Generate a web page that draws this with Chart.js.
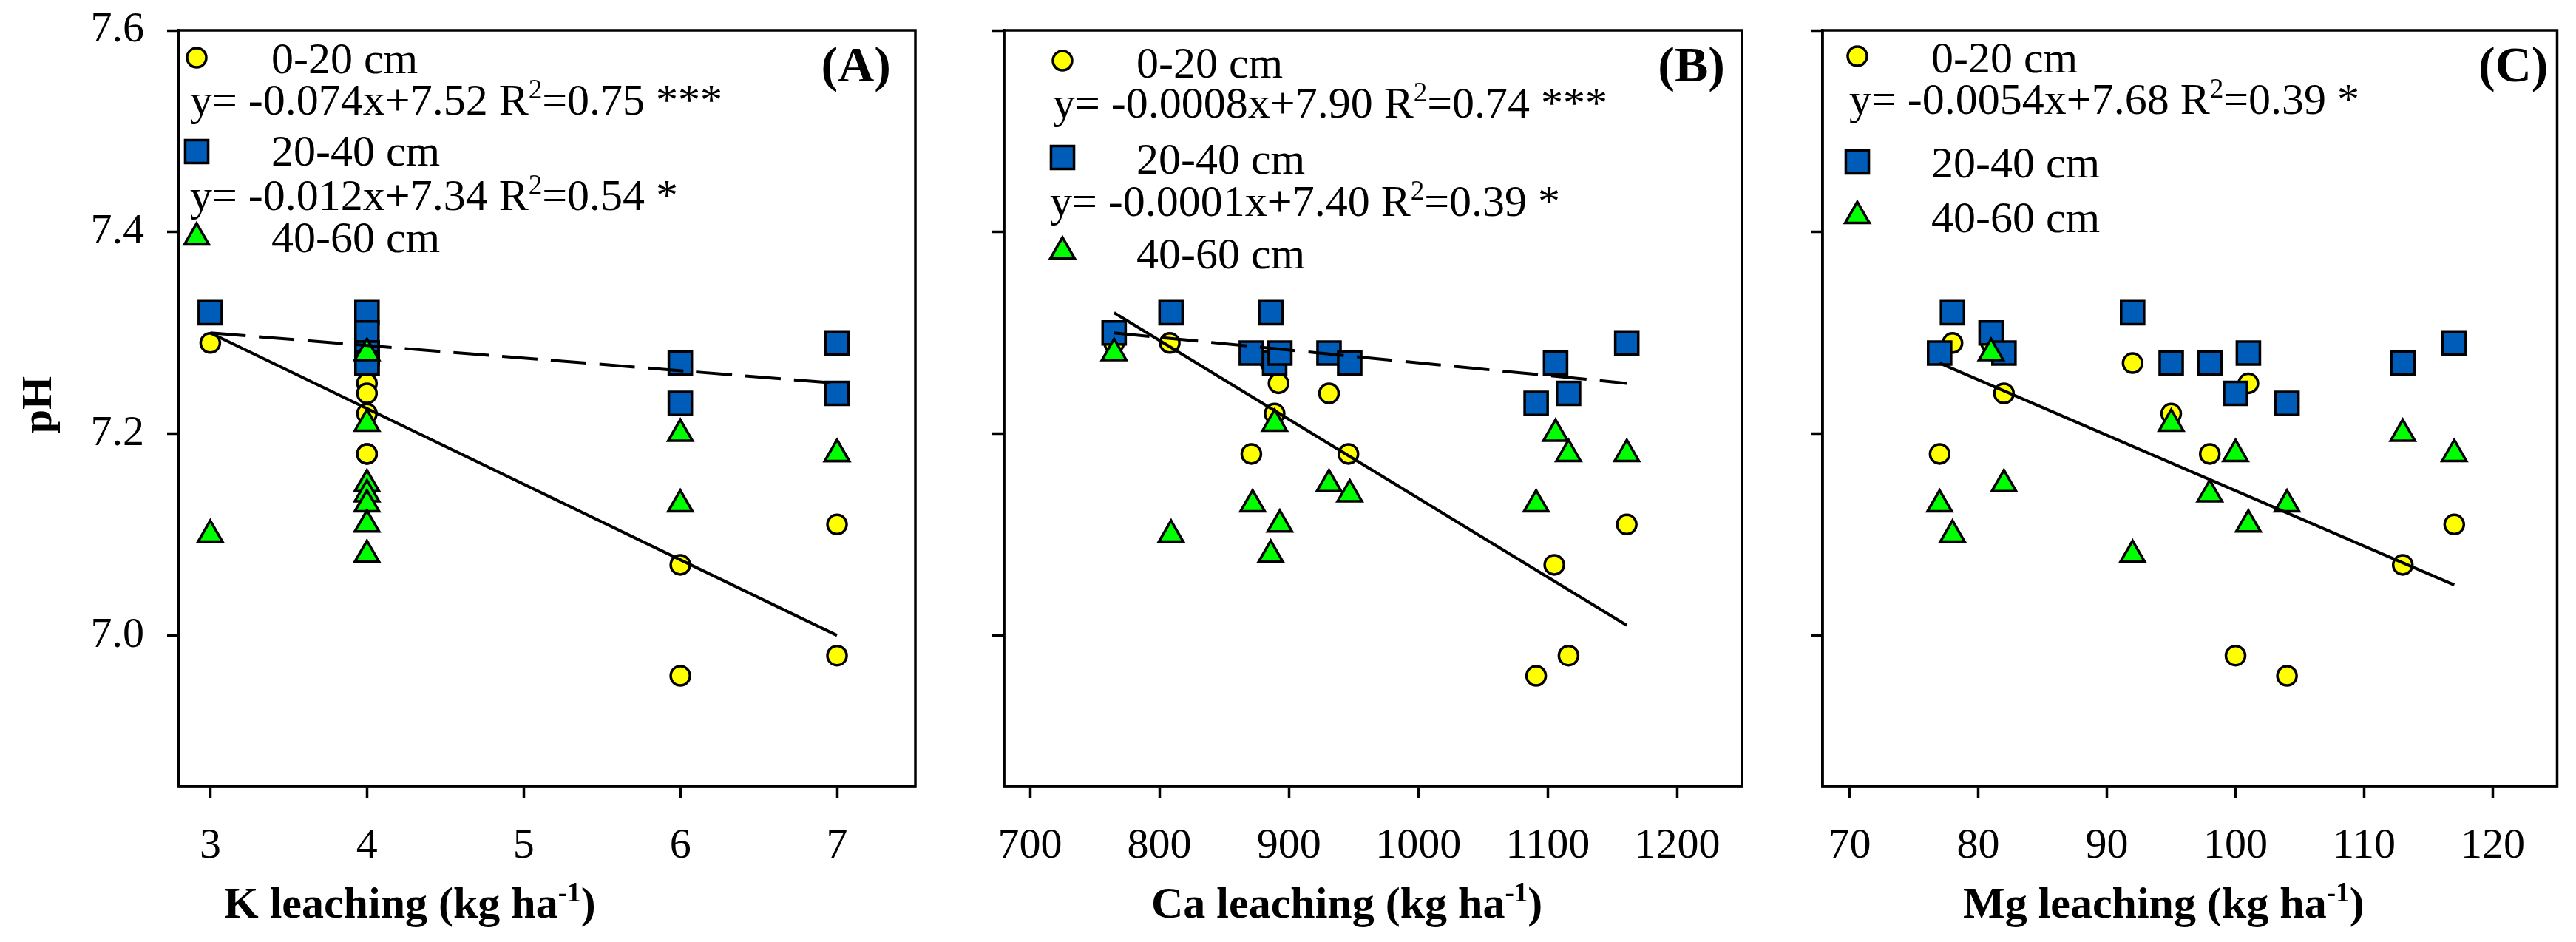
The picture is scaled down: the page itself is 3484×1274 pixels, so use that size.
<!DOCTYPE html>
<html>
<head>
<meta charset="utf-8">
<script src="https://cdn.jsdelivr.net/npm/chart.js@4.4.1/dist/chart.umd.min.js"></script>
<style>
  html, body { margin: 0; padding: 0; background: #fff; }
  #wrap { position: relative; width: 3484px; height: 1274px; }
  canvas { position: absolute; top: 0; }
</style>
</head>
<body>
<div id="wrap">
  <canvas id="panelA" width="1300" height="1274" style="left:0px"></canvas>
  <canvas id="panelB" width="1120" height="1274" style="left:1300px"></canvas>
  <canvas id="panelC" width="1064" height="1274" style="left:2420px"></canvas>
</div>
<script>
// pH axis, shared by the three panels
const pHTicks = [7.0, 7.2, 7.4, 7.6];

// (A) K leaching
const kTicks = [3, 4, 5, 6, 7];
const kX020 = [3, 4, 4, 4, 4, 4, 4, 4, 6, 6, 7, 7];
const kPH020 = [7.29, 7.29, 7.27, 7.25, 7.24, 7.22, 7.18, 7.18, 7.07, 6.96, 7.11, 6.98];
const kX2040 = [3, 4, 4, 4, 4, 4, 4, 4, 6, 6, 7, 7];
const kPH2040 = [7.32, 7.32, 7.30, 7.28, 7.28, 7.28, 7.27, 7.27, 7.27, 7.23, 7.29, 7.24];
const kX4060 = [3, 4, 4, 4, 4, 4, 4, 4, 6, 6, 7, 7];
const kPH4060 = [7.10, 7.28, 7.21, 7.15, 7.14, 7.13, 7.11, 7.08, 7.20, 7.13, 7.18, 7.18];
const kFit020X = [3, 7];
const kFit020Y = [7.30, 7.00];
const kFit2040X = [3, 7];
const kFit2040Y = [7.30, 7.25];

// (B) Ca leaching
const caTicks = [700, 800, 900, 1000, 1100, 1200];
const caX020 = [765, 808, 871, 886, 889, 892, 931, 946, 1091, 1105, 1116, 1161];
const caPH020 = [7.29, 7.29, 7.18, 7.27, 7.22, 7.25, 7.24, 7.18, 6.96, 7.07, 6.98, 7.11];
const caX2040 = [765, 809, 886, 871, 889, 893, 931, 947, 1091, 1106, 1116, 1161];
const caPH2040 = [7.30, 7.32, 7.32, 7.28, 7.27, 7.28, 7.28, 7.27, 7.23, 7.27, 7.24, 7.29];
const caX4060 = [765, 809, 872, 886, 889, 893, 931, 947, 1091, 1106, 1116, 1161];
const caPH4060 = [7.28, 7.10, 7.13, 7.08, 7.21, 7.11, 7.15, 7.14, 7.13, 7.20, 7.18, 7.18];
const caFit020X = [765, 1161];
const caFit020Y = [7.32, 7.01];
const caFit2040X = [765, 1161];
const caFit2040Y = [7.30, 7.25];

// (C) Mg leaching
const mgTicks = [70, 80, 90, 100, 110, 120];
const mgX020 = [77, 78, 81, 82, 92, 95, 98, 100, 101, 104, 113, 117];
const mgPH020 = [7.18, 7.29, 7.29, 7.24, 7.27, 7.22, 7.18, 6.98, 7.25, 6.96, 7.07, 7.11];
const mgX2040 = [77, 78, 81, 82, 92, 95, 98, 100, 101, 104, 113, 117];
const mgPH2040 = [7.28, 7.32, 7.30, 7.28, 7.32, 7.27, 7.27, 7.24, 7.28, 7.23, 7.27, 7.29];
const mgX4060 = [77, 78, 81, 82, 92, 95, 98, 100, 101, 104, 113, 117];
const mgPH4060 = [7.13, 7.10, 7.28, 7.15, 7.08, 7.21, 7.14, 7.18, 7.11, 7.13, 7.20, 7.18];
const mgFit020X = [77, 117];
const mgFit020Y = [7.27, 7.05];

const FONT = '"Liberation Serif", "Times New Roman", serif';
const YELLOW = '#FFFF00';
const BLUE = '#005CB9';
const GREEN = '#00FF00';

function pts(xs, ys) {
    return xs.map((x, i) => ({ x: x, y: ys[i] }));
}

// text with ^{...} superscripts, left aligned on the baseline
function drawRich(ctx, str, x, y, size, weight) {
    const re = /\^\{([^}]*)\}/g;
    const parts = [];
    let last = 0, m;
    while ((m = re.exec(str))) {
        parts.push([str.slice(last, m.index), false]);
        parts.push([m[1], true]);
        last = re.lastIndex;
    }
    parts.push([str.slice(last), false]);
    ctx.textAlign = 'left';
    ctx.textBaseline = 'alphabetic';
    let cx = x;
    for (const [t, sup] of parts) {
        const s = sup ? size * 0.62 : size;
        ctx.font = weight + ' ' + s + 'px ' + FONT;
        ctx.fillText(t, cx, sup ? y - size * 0.36 : y);
        cx += ctx.measureText(t).width;
    }
}

const markers = {
    circle: { pointStyle: 'circle', radius: 13, color: YELLOW },
    rect: { pointStyle: 'rect', radius: 22, color: BLUE },
    triangle: { pointStyle: 'triangle', radius: 19, color: GREEN }
};

// frame, legend, equations and titles
const paperPlugin = {
    id: 'paper',
    afterDraw(chart) {
        const p = chart.options.plugins.paper;
        const ctx = chart.ctx;
        const a = chart.chartArea;
        ctx.save();
        ctx.strokeStyle = '#000';
        ctx.fillStyle = '#000';
        ctx.lineWidth = 3.5;
        ctx.strokeRect(a.left, a.top, a.right - a.left, a.bottom - a.top);

        // legend markers
        for (const it of p.legend) {
            const mk = markers[it.marker];
            ctx.fillStyle = mk.color;
            ctx.strokeStyle = '#000';
            ctx.lineWidth = 3.5;
            Chart.helpers.drawPoint(ctx, { pointStyle: mk.pointStyle, radius: mk.radius, borderWidth: 3.5, rotation: 0 },
                a.left + it.mx, it.my);
            ctx.fillStyle = '#000';
            drawRich(ctx, it.label, a.left + p.labelX, it.ly, 60, 'normal');
        }
        for (const eq of p.equations) {
            drawRich(ctx, eq.text, a.left + eq.x, eq.y, 60, 'normal');
        }

        // panel letter
        ctx.font = 'bold 68px ' + FONT;
        ctx.textAlign = 'right';
        ctx.textBaseline = 'alphabetic';
        ctx.fillText(p.letter, a.right - p.letterRight, 110);

        // x title
        drawRich(ctx, p.xTitle, a.left + p.xTitleX, 1241, 60, 'bold');

        // y title
        if (p.yTitle) {
            ctx.save();
            ctx.translate(69, (a.top + a.bottom) / 2 - 5);
            ctx.rotate(-Math.PI / 2);
            ctx.font = 'bold 58px ' + FONT;
            ctx.textAlign = 'center';
            ctx.textBaseline = 'alphabetic';
            ctx.fillText(p.yTitle, 0, 0);
            ctx.restore();
        }
        ctx.restore();
    }
};

function makePanel(id, cfg) {
    const canvas = document.getElementById(id);
    const W = canvas.width;
    const datasets = [
        {
            data: pts(cfg.x020, cfg.ph020), pointStyle: 'circle', pointRadius: 13,
            pointBackgroundColor: YELLOW, pointBorderColor: '#000', pointBorderWidth: 3.5, order: 3
        },
        {
            data: pts(cfg.x2040, cfg.ph2040), pointStyle: 'rect', pointRadius: 22,
            pointBackgroundColor: BLUE, pointBorderColor: '#000', pointBorderWidth: 3.5, order: 2
        },
        {
            data: pts(cfg.x4060, cfg.ph4060), pointStyle: 'triangle', pointRadius: 19,
            pointBackgroundColor: GREEN, pointBorderColor: '#000', pointBorderWidth: 3.5, order: 1
        }
    ];
    cfg.fits.forEach(f => {
        datasets.push({
            data: pts(f.x, f.y), showLine: true, pointRadius: 0, borderColor: '#000',
            borderWidth: 4, borderDash: f.dash, fill: false, order: 0
        });
    });

    return new Chart(canvas.getContext('2d'), {
        type: 'scatter',
        data: { datasets: datasets },
        options: {
            responsive: false,
            animation: false,
            devicePixelRatio: 1,
            layout: { padding: { left: 0, top: 41, right: W - cfg.right, bottom: 0 } },
            plugins: {
                legend: { display: false },
                tooltip: { enabled: false },
                paper: cfg.paper
            },
            scales: {
                x: {
                    type: 'linear',
                    min: cfg.xMin,
                    max: cfg.xMax,
                    afterBuildTicks: s => { s.ticks = cfg.xTicks.map(v => ({ value: v })); },
                    afterFit: s => { s.height = 210; s.paddingLeft = 0; s.paddingRight = 0; },
                    ticks: {
                        font: { family: FONT, size: 58 }, color: '#000', padding: 31,
                        maxRotation: 0, autoSkip: false,
                        callback: v => String(v)
                    },
                    grid: { drawOnChartArea: false, tickLength: 15, tickWidth: 3.5, tickColor: '#000' },
                    border: { color: '#000', width: 3.5 }
                },
                y: {
                    type: 'linear',
                    min: 6.85,
                    max: 7.6,
                    afterBuildTicks: s => { s.ticks = pHTicks.map(v => ({ value: v })); },
                    afterFit: s => { s.width = cfg.left; s.paddingTop = 0; s.paddingBottom = 0; },
                    ticks: {
                        display: cfg.yLabels, font: { family: FONT, size: 58 }, color: '#000', padding: 31,
                        callback: v => Number(v).toFixed(1)
                    },
                    grid: { drawOnChartArea: false, tickLength: 16, tickWidth: 3.5, tickColor: '#000' },
                    border: { color: '#000', width: 3.5 }
                }
            }
        },
        plugins: [paperPlugin]
    });
}

const chartA = makePanel('panelA', {
    left: 242, right: 1238, xMin: 2.8, xMax: 7.5, xTicks: kTicks, yLabels: true,
    x020: kX020, ph020: kPH020, x2040: kX2040, ph2040: kPH2040, x4060: kX4060, ph4060: kPH4060,
    fits: [
        { x: kFit020X, y: kFit020Y, dash: [] },
        { x: kFit2040X, y: kFit2040Y, dash: [48, 18] }
    ],
    paper: {
        letter: '(A)', letterRight: 33, xTitle: 'K leaching (kg ha^{-1})', xTitleX: 61, yTitle: 'pH',
        labelX: 125,
        legend: [
            { marker: 'circle', mx: 24, my: 78, label: '0-20 cm', ly: 99 },
            { marker: 'rect', mx: 24, my: 205, label: '20-40 cm', ly: 224 },
            { marker: 'triangle', mx: 24, my: 321, label: '40-60 cm', ly: 341 }
        ],
        equations: [
            { text: 'y= -0.074x+7.52 R^{2}=0.75 ***', x: 15, y: 155 },
            { text: 'y= -0.012x+7.34 R^{2}=0.54 *', x: 15, y: 284 }
        ]
    }
});

const chartB = makePanel('panelB', {
    left: 58, right: 1056, xMin: 680, xMax: 1250, xTicks: caTicks, yLabels: false,
    x020: caX020, ph020: caPH020, x2040: caX2040, ph2040: caPH2040, x4060: caX4060, ph4060: caPH4060,
    fits: [
        { x: caFit020X, y: caFit020Y, dash: [] },
        { x: caFit2040X, y: caFit2040Y, dash: [48, 18] }
    ],
    paper: {
        letter: '(B)', letterRight: 23, xTitle: 'Ca leaching (kg ha^{-1})', xTitleX: 199, yTitle: null,
        labelX: 179,
        legend: [
            { marker: 'circle', mx: 79, my: 82, label: '0-20 cm', ly: 105 },
            { marker: 'rect', mx: 79, my: 213, label: '20-40 cm', ly: 235 },
            { marker: 'triangle', mx: 79, my: 340, label: '40-60 cm', ly: 363 }
        ],
        equations: [
            { text: 'y= -0.0008x+7.90 R^{2}=0.74 ***', x: 66, y: 159 },
            { text: 'y= -0.0001x+7.40 R^{2}=0.39 *', x: 62, y: 292 }
        ]
    }
});

const chartC = makePanel('panelC', {
    left: 45, right: 1041, xMin: 67.9, xMax: 125, xTicks: mgTicks, yLabels: false,
    x020: mgX020, ph020: mgPH020, x2040: mgX2040, ph2040: mgPH2040, x4060: mgX4060, ph4060: mgPH4060,
    fits: [
        { x: mgFit020X, y: mgFit020Y, dash: [] }
    ],
    paper: {
        letter: '(C)', letterRight: 12, xTitle: 'Mg leaching (kg ha^{-1})', xTitleX: 190, yTitle: null,
        labelX: 147,
        legend: [
            { marker: 'circle', mx: 47, my: 76, label: '0-20 cm', ly: 98 },
            { marker: 'rect', mx: 47, my: 219, label: '20-40 cm', ly: 240 },
            { marker: 'triangle', mx: 47, my: 292, label: '40-60 cm', ly: 314 }
        ],
        equations: [
            { text: 'y= -0.0054x+7.68 R^{2}=0.39 *', x: 36, y: 154 }
        ]
    }
});

console.log('panels', chartA, chartB, chartC);
</script>
</body>
</html>
